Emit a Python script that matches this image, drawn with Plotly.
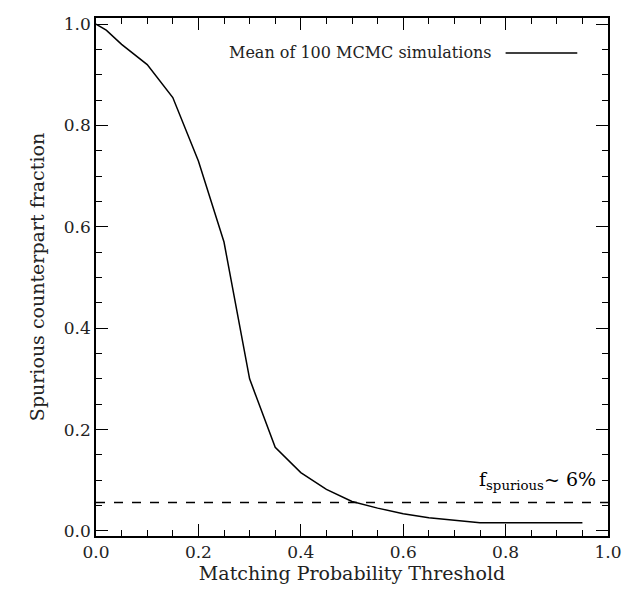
import plotly.graph_objects as go

thresholds = [0.0, 0.02, 0.05, 0.1, 0.15, 0.2, 0.25, 0.3, 0.35, 0.4, 0.45, 0.5, 0.55, 0.6, 0.65, 0.7, 0.75, 0.8, 0.85, 0.9, 0.95]
fraction = [1.0, 0.988, 0.96, 0.92, 0.855, 0.73, 0.57, 0.30, 0.165, 0.115, 0.082, 0.058, 0.045, 0.034, 0.026, 0.021, 0.016, 0.016, 0.016, 0.016, 0.016]
f_spurious = 0.056

font = dict(family="DejaVu Serif", size=17, color="#222")
tfont = dict(family="DejaVu Serif", size=19, color="#222")
fig = go.Figure()
fig.add_trace(go.Scatter(x=thresholds, y=fraction, mode="lines", line=dict(color="black", width=1.5)))
fig.add_trace(go.Scatter(x=[0, 1], y=[f_spurious, f_spurious], mode="lines",
                         line=dict(color="black", width=1.5, dash="dash")))
# legend
fig.add_trace(go.Scatter(x=[0.80, 0.94], y=[0.943, 0.943], mode="lines", line=dict(color="black", width=1.5)))
fig.add_annotation(x=0.778, y=0.943, text="Mean of 100 MCMC simulations", showarrow=False,
                   xanchor="right", font=dict(family="DejaVu Serif", size=16, color="#222"))
fig.add_annotation(x=0.98, y=0.1, text="f<sub>spurious</sub>~ 6%", showarrow=False,
                   xanchor="right", font=dict(family="DejaVu Serif", size=19, color="black"))
ax = dict(showline=True, mirror="ticks", linecolor="black", linewidth=1.5, ticks="inside",
          ticklen=12, tickwidth=1.2, tickcolor="black", showgrid=False, zeroline=False,
          tickfont=font, minor=dict(ticks="inside", ticklen=6, tickcolor="black", tickwidth=1))
fig.update_layout(
    width=636, height=592, showlegend=False, plot_bgcolor="white", paper_bgcolor="white",
    margin=dict(l=88, r=36, t=6, b=64),
    xaxis=dict(ax, range=[0, 1], dtick=0.2, tickformat=".1f", minor=dict(ax["minor"], dtick=0.05),
               title=dict(text="Matching Probability Threshold", font=tfont, standoff=4)),
    yaxis=dict(ax, range=[-0.01, 1.012], dtick=0.2, tickformat=".1f", minor=dict(ax["minor"], dtick=0.05),
               title=dict(text="Spurious counterpart fraction", font=tfont, standoff=14)),
)
fig.write_html("out.html")
